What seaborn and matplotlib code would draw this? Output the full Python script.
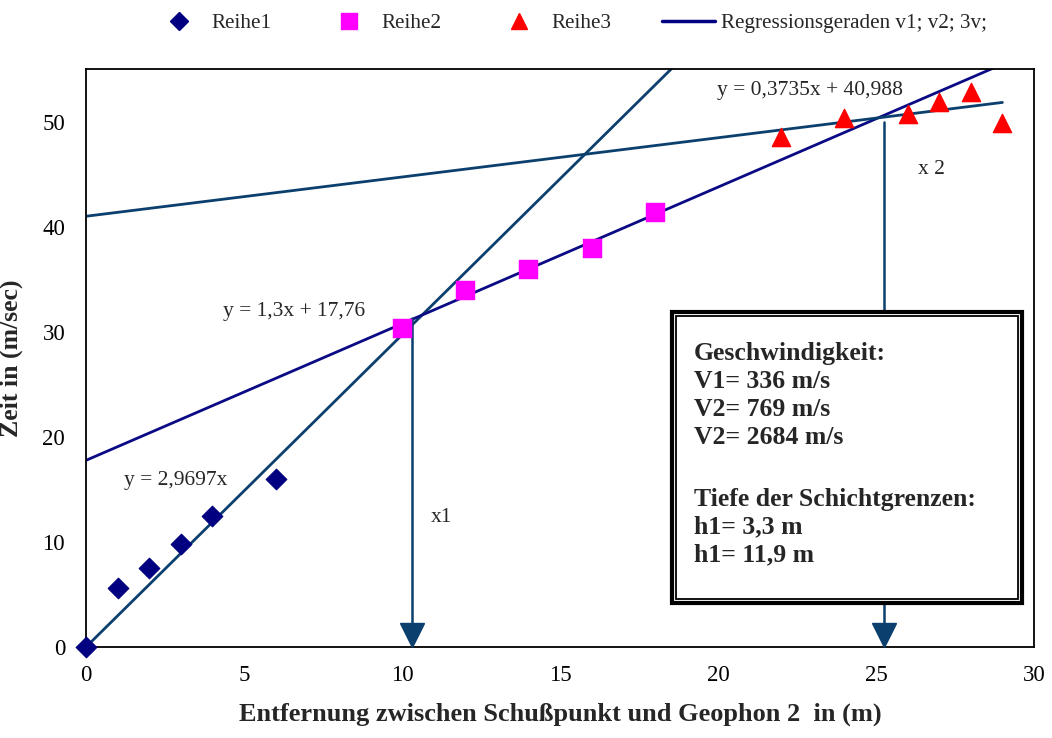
import numpy as np
import pandas as pd
import matplotlib
matplotlib.use("Agg")
import matplotlib.pyplot as plt
import seaborn as sns
from matplotlib.patches import Rectangle
from matplotlib.lines import Line2D

# ---- data ----
r1_x = [0, 1, 2, 3, 4, 6]
r1_y = [0, 5.6, 7.5, 9.8, 12.5, 16.0]
r2_x = [10, 12, 14, 16, 18]
r2_y = [30.4, 34.0, 36.0, 38.0, 41.4]
r3_x = [22, 24, 26, 27, 28, 29]
r3_y = [48.5, 50.3, 50.7, 51.9, 52.8, 49.9]

# regression lines (slope, intercept) as written on the chart
reg_slopes = [2.9697, 1.3, 0.3735]
reg_intercepts = [0.0, 17.76, 40.988]
reg_labels = ["y = 2,9697x", "y = 1,3x + 17,76", "y = 0,3735x + 40,988"]
reg_x_range = [0, 29]

x1_pos, x1_top = 10.33, 31.3
x2_pos, x2_top = 25.25, 50.0

x_ticks = [0, 5, 10, 15, 20, 25, 30]
y_ticks = [0, 10, 20, 30, 40, 50]

box_lines = ["Geschwindigkeit:", "V1= 336 m/s", "V2= 769 m/s", "V2= 2684 m/s",
             "Tiefe der Schichtgrenzen:", "h1= 3,3 m", "h1= 11,9 m"]

legend_labels = ["Reihe1", "Reihe2", "Reihe3", "Regressionsgeraden v1; v2; 3v;"]

# ---- style ----
sns.set_style("white")
plt.rcParams['font.family'] = ['Liberation Serif', 'DejaVu Serif']

fig = plt.figure(figsize=(10.52, 7.38), dpi=100)
ax = fig.add_axes([86 / 1052, 1 - 647 / 738, (1034 - 86) / 1052, (647 - 69) / 738])

line_col_a = '#0B3F6E'
line_col_b = '#0A0A85'
arrow_col = '#0B3F6E'

# regression lines
xs = np.array(reg_x_range, dtype=float)
reg_cols = [line_col_a, line_col_b, line_col_a]
for m, b, c in zip(reg_slopes, reg_intercepts, reg_cols):
    df_l = pd.DataFrame({"x": xs, "y": m * xs + b})
    sns.lineplot(data=df_l, x="x", y="y", ax=ax, color=c, lw=2.0, zorder=2)

# scatter series
df1 = pd.DataFrame({"x": r1_x, "y": r1_y})
df2 = pd.DataFrame({"x": r2_x, "y": r2_y})
df3 = pd.DataFrame({"x": r3_x, "y": r3_y})
sns.scatterplot(data=df1, x="x", y="y", ax=ax, marker="D", s=110, color="#000080",
                edgecolor="#000080", zorder=3, clip_on=False)
sns.scatterplot(data=df2, x="x", y="y", ax=ax, marker="s", s=170, color="#FF00FF",
                edgecolor="#FF00FF", zorder=3)
sns.scatterplot(data=df3, x="x", y="y", ax=ax, marker="^", s=170, color="#FF0000",
                edgecolor="#FF0000", zorder=3)

# vertical arrows
for xp, yt in [(x1_pos, x1_top), (x2_pos, x2_top)]:
    ax.plot([xp, xp], [yt, 1.5], color=arrow_col, lw=1.8, zorder=2)
    ax.plot([xp], [1.1], marker="v", markersize=17, color=arrow_col, zorder=4, clip_on=False)

# equation labels
eq_fs = 15.5
ax.text(2.85, 15.8, reg_labels[0], fontsize=eq_fs, ha="center", va="center")
ax.text(6.6, 31.9, reg_labels[1], fontsize=eq_fs, ha="center", va="center")
ax.text(22.9, 53.0, reg_labels[2], fontsize=eq_fs, ha="center", va="center")
ax.text(11.25, 12.3, "x1", fontsize=eq_fs, ha="center", va="center")
ax.text(26.75, 45.4, "x 2", fontsize=eq_fs, ha="center", va="center")

# text box with double border
bx0, bx1 = (672 - 86) / 948, (1022 - 86) / 948
by0, by1 = (647 - 603) / 578, (647 - 312) / 578
ax.add_patch(Rectangle((bx0, by0), bx1 - bx0, by1 - by0, transform=ax.transAxes,
                       facecolor="white", edgecolor="black", lw=3.0, zorder=5))
pad_x, pad_y = 4 / 948, 4 / 578
ax.add_patch(Rectangle((bx0 + pad_x, by0 + pad_y), bx1 - bx0 - 2 * pad_x, by1 - by0 - 2 * pad_y,
                       transform=ax.transAxes, facecolor="none", edgecolor="black",
                       lw=1.3, zorder=6))
tx = (694 - 86) / 948
box_y_px = [353, 381, 409, 437, 499, 527, 555]
for t, ypix in zip(box_lines, box_y_px):
    ax.text(tx, (647 - ypix) / 578, t, transform=ax.transAxes, fontsize=18.5,
            fontweight="bold", ha="left", va="center", zorder=7)

# axes
ax.set_xlim(0, 30)
ax.set_ylim(0, 55)
ax.set_xticks(x_ticks)
ax.set_yticks(y_ticks)
ax.tick_params(direction="inout", length=10, width=1.2, colors="black", labelsize=16.5,
               pad=8)
ax.tick_params(axis="y", pad=10)
for s in ax.spines.values():
    s.set_color("black")
    s.set_linewidth(1.3)
ax.set_xlabel("Entfernung zwischen Schußpunkt und Geophon 2  in (m)", fontsize=19,
              fontweight="bold", labelpad=12)
ax.set_ylabel("Zeit in (m/sec)", fontsize=18.5, fontweight="bold", labelpad=14)

# legend
handles = [
    Line2D([], [], ls="none", marker="D", markersize=9, color="#000080"),
    Line2D([], [], ls="none", marker="s", markersize=11, color="#FF00FF"),
    Line2D([], [], ls="none", marker="^", markersize=11, color="#FF0000"),
    Line2D([], [], color="#000080", lw=2.5),
]
fig.legend(handles, legend_labels, loc="center", bbox_to_anchor=(570 / 1052, 1 - 23 / 738),
           ncol=4, frameon=False, fontsize=15.2, columnspacing=2.4, handlelength=2.5,
           handletextpad=0.3, borderpad=0)

fig.savefig("out.png", dpi=100)
